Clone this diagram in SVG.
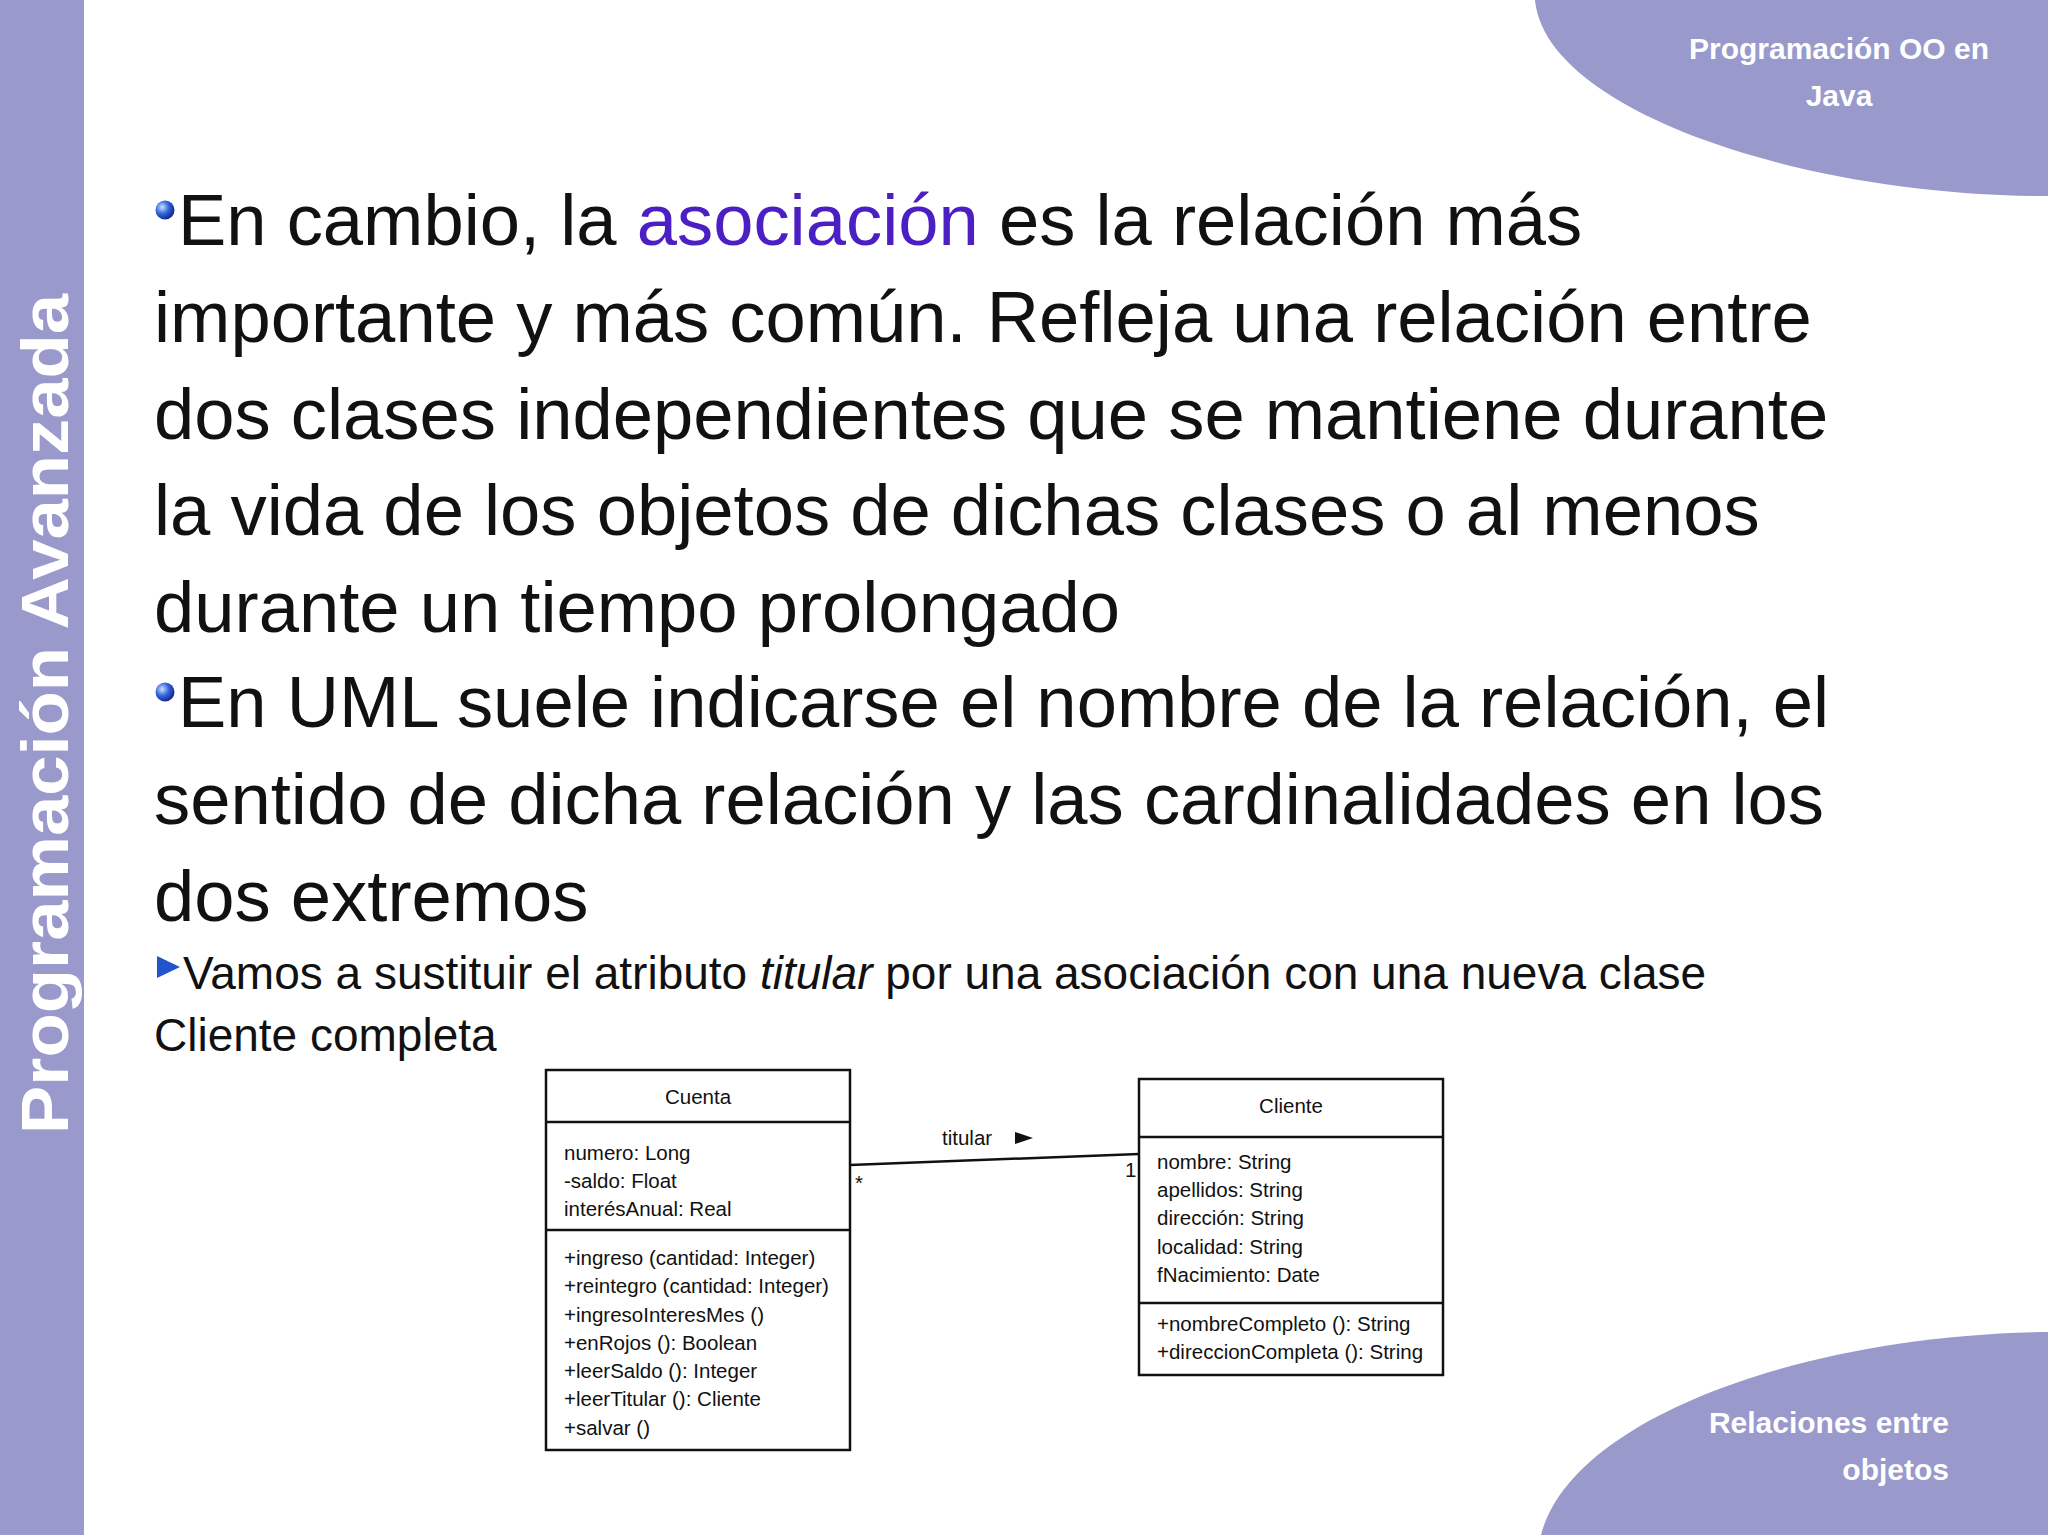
<svg xmlns="http://www.w3.org/2000/svg" width="2048" height="1535" viewBox="0 0 2048 1535">
<style>
.deco{fill:#9999cc}
.wt{fill:#fff;font-family:"Liberation Sans",Arial,sans-serif;font-weight:bold}
.main{font-family:"Liberation Sans",Arial,sans-serif;font-size:72.4px;fill:#111}
.sub{font-family:"Liberation Sans",Arial,sans-serif;font-size:46px;fill:#111}
.box{fill:#fff;stroke:#111;stroke-width:2.5}
.ln{stroke:#111;stroke-width:2.5}
.u{font-family:"Liberation Sans",Arial,sans-serif;font-size:20.5px;fill:#111}
</style>
<defs>
<radialGradient id="ball" cx="0.35" cy="0.35" r="0.7"><stop offset="0" stop-color="#cfe0ff"/><stop offset="0.5" stop-color="#3366dd"/><stop offset="1" stop-color="#112288"/></radialGradient>
</defs>
<rect width="2048" height="1535" fill="#fff"/>
<rect class="deco" x="0" y="0" width="84" height="1535"/>
<path class="deco" d="M1535 0 C1545 110 1800 196 2048 196 V0 Z"/>
<path class="deco" d="M1541 1535 C1570 1420 1800 1335 2048 1332 V1535 Z"/>
<text class="wt" font-size="30" x="1839" y="59" text-anchor="middle">Programación OO en</text>
<text class="wt" font-size="30" x="1839" y="106" text-anchor="middle">Java</text>
<text class="wt" font-size="30" x="1949" y="1433" text-anchor="end">Relaciones entre</text>
<text class="wt" font-size="30" x="1949" y="1480" text-anchor="end">objetos</text>
<text class="wt" font-size="66" transform="translate(68,714) rotate(-90)" text-anchor="middle" textLength="840" lengthAdjust="spacingAndGlyphs">Programación Avanzada</text>
<circle cx="165" cy="210" r="9.5" fill="url(#ball)"/>
<circle cx="165" cy="692" r="9.5" fill="url(#ball)"/>
<text class="main" x="178" y="245">En cambio, la <tspan fill="#4b1fc4">asociación</tspan> es la relación más</text>
<text class="main" x="154" y="342">importante y más común. Refleja una relación entre</text>
<text class="main" x="154" y="439">dos clases independientes que se mantiene durante</text>
<text class="main" x="154" y="535">la vida de los objetos de dichas clases o al menos</text>
<text class="main" x="154" y="632">durante un tiempo prolongado</text>
<text class="main" x="178" y="727">En UML suele indicarse el nombre de la relación, el</text>
<text class="main" x="154" y="824">sentido de dicha relación y las cardinalidades en los</text>
<text class="main" x="154" y="921">dos extremos</text>
<polygon points="157,956 180,967 157,978" fill="#2255cc"/>
<text class="sub" x="183" y="989">Vamos a sustituir el atributo <tspan font-style="italic">titular</tspan> por una asociación con una nueva clase</text>
<text class="sub" x="154" y="1051">Cliente completa</text>
<g id="connectors">
<line class="ln" x1="850" y1="1165" x2="1139" y2="1154"/>
<text class="u" x="942" y="1145">titular</text>
<polygon points="1015,1132 1033,1138 1015,1144" fill="#111"/>
<text class="u" x="855" y="1190">*</text>
<text class="u" x="1125" y="1177">1</text>
</g>
<g id="cuenta">
<rect class="box" x="546" y="1070" width="304" height="380"/>
<line class="ln" x1="546" y1="1122" x2="850" y2="1122"/>
<line class="ln" x1="546" y1="1230" x2="850" y2="1230"/>
<text class="u" x="698" y="1104" text-anchor="middle">Cuenta</text>
<text class="u" x="564" y="1160">numero: Long</text>
<text class="u" x="564" y="1188">-saldo: Float</text>
<text class="u" x="564" y="1216">interésAnual: Real</text>
<text class="u" x="564" y="1265">+ingreso (cantidad: Integer)</text>
<text class="u" x="564" y="1293">+reintegro (cantidad: Integer)</text>
<text class="u" x="564" y="1322">+ingresoInteresMes ()</text>
<text class="u" x="564" y="1350">+enRojos (): Boolean</text>
<text class="u" x="564" y="1378">+leerSaldo (): Integer</text>
<text class="u" x="564" y="1406">+leerTitular (): Cliente</text>
<text class="u" x="564" y="1435">+salvar ()</text>
</g>
<g id="cliente">
<rect class="box" x="1139" y="1079" width="304" height="296"/>
<line class="ln" x1="1139" y1="1137" x2="1443" y2="1137"/>
<line class="ln" x1="1139" y1="1303" x2="1443" y2="1303"/>
<text class="u" x="1291" y="1113" text-anchor="middle">Cliente</text>
<text class="u" x="1157" y="1169">nombre: String</text>
<text class="u" x="1157" y="1197">apellidos: String</text>
<text class="u" x="1157" y="1225">dirección: String</text>
<text class="u" x="1157" y="1254">localidad: String</text>
<text class="u" x="1157" y="1282">fNacimiento: Date</text>
<text class="u" x="1157" y="1331">+nombreCompleto (): String</text>
<text class="u" x="1157" y="1359">+direccionCompleta (): String</text>
</g>
</svg>
